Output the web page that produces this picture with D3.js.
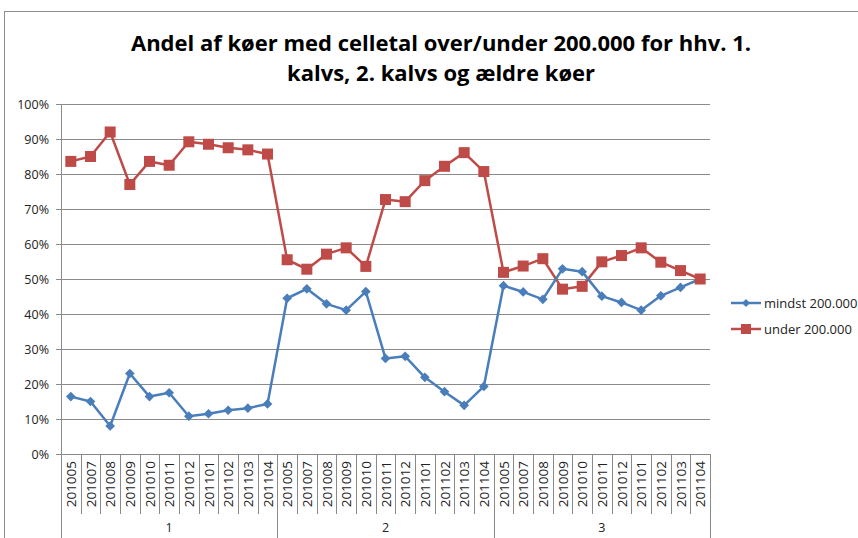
<!DOCTYPE html>
<html lang="da">
<head>
<meta charset="UTF-8">
<title>Andel af køer</title>
<style>
    body { margin: 0; background: #fff; }
    svg { display: block; font-family: "Open Sans", "Noto Sans", sans-serif; }
</style>
</head>
<body>
<svg width="858" height="538"></svg>
<script src="https://d3js.org/d3.v7.min.js"></script>
<script>
    // data
    const groups = ["1", "2", "3"]
    const months = ["201005", "201007", "201008", "201009", "201010", "201011",
                    "201012", "201101", "201102", "201103", "201104"]
    const mindst = [16.4, 15.0, 8.0, 23.0, 16.4, 17.5, 10.8, 11.5, 12.5, 13.1, 14.3,
                    44.5, 47.2, 42.9, 41.1, 46.4, 27.3, 27.9, 21.9, 17.8, 13.9, 19.3,
                    48.1, 46.3, 44.2, 52.9, 52.1, 45.1, 43.3, 41.1, 45.2, 47.6, 50.0]
    const under  = [83.6, 85.0, 92.0, 77.0, 83.6, 82.5, 89.2, 88.5, 87.5, 86.9, 85.7,
                    55.5, 52.8, 57.1, 58.9, 53.6, 72.7, 72.1, 78.1, 82.2, 86.1, 80.7,
                    51.9, 53.7, 55.8, 47.1, 47.9, 54.9, 56.7, 58.9, 54.8, 52.4, 50.0]
    const yTicks = [0, 10, 20, 30, 40, 50, 60, 70, 80, 90, 100]

    const labels = []
    groups.forEach(g => months.forEach(m => labels.push({ g, m })))

    const svg = d3.select('svg')
    const plotLeft = 61, plotRight = 710, plotTop = 104, plotBottom = 454

    const x = d3.scaleBand().domain(d3.range(labels.length)).range([plotLeft, plotRight])
    const y = d3.scaleLinear().domain([0, 100]).range([plotBottom, plotTop])
    const cx = i => x(i) + x.bandwidth() / 2

    // chart border
    svg.append('rect')
        .attr('x', 4.5).attr('y', 11.5)
        .attr('width', 900).attr('height', 600)
        .attr('fill', 'none').attr('stroke', '#8c8c8c')

    // title
    const title = svg.append('text')
        .attr('text-anchor', 'middle')
        .attr('font-weight', 'bold')
        .attr('font-size', 22)
        .attr('fill', '#000')
    title.append('tspan').attr('x', 441).attr('y', 51)
        .text('Andel af køer med celletal over/under 200.000 for hhv. 1.')
    title.append('tspan').attr('x', 441).attr('y', 81)
        .text('kalvs, 2. kalvs og ældre køer')

    // grid + y ticks
    svg.append('g').selectAll('line')
        .data(yTicks).enter().append('line')
            .attr('x1', plotLeft - 5).attr('x2', plotRight)
            .attr('y1', d => Math.round(y(d)) + 0.5)
            .attr('y2', d => Math.round(y(d)) + 0.5)
            .attr('stroke', '#8a8a8a').attr('stroke-width', 1)

    svg.append('line')
        .attr('x1', plotLeft + 0.5).attr('x2', plotLeft + 0.5)
        .attr('y1', plotTop).attr('y2', plotBottom)
        .attr('stroke', '#8a8a8a')

    svg.append('g').selectAll('text')
        .data(yTicks).enter().append('text')
            .attr('x', 49).attr('y', d => y(d) + 4.5)
            .attr('text-anchor', 'end')
            .attr('font-size', 12.5).attr('fill', '#222')
            .text(d => d + '%')

    // x axis: separators between categories, longer ones between groups
    svg.append('g').selectAll('line')
        .data(d3.range(labels.length + 1)).enter().append('line')
            .attr('x1', i => Math.round(i < labels.length ? x(i) : plotRight) + 0.5)
            .attr('x2', i => Math.round(i < labels.length ? x(i) : plotRight) + 0.5)
            .attr('y1', plotBottom)
            .attr('y2', i => i % months.length === 0 ? 538 : 514)
            .attr('stroke', '#8a8a8a')

    svg.append('g').selectAll('text')
        .data(labels).enter().append('text')
            .attr('transform', (d, i) => `translate(${cx(i) + 5},461) rotate(-90)`)
            .attr('text-anchor', 'end')
            .attr('font-size', 13.5).attr('fill', '#222')
            .text(d => d.m)

    svg.append('g').selectAll('text')
        .data(groups).enter().append('text')
            .attr('x', (g, k) => (x(k * months.length) + (k < 2 ? x((k + 1) * months.length) : plotRight)) / 2)
            .attr('y', 532)
            .attr('text-anchor', 'middle')
            .attr('font-size', 12.5).attr('fill', '#222')
            .text(d => d)

    // series
    const blue = '#4a7ebb', red = '#be4b48'
    const line = d3.line()
        .x((d, i) => cx(i))
        .y(d => y(d))

    svg.append('path').datum(under)
        .attr('d', line).attr('fill', 'none')
        .attr('stroke', red).attr('stroke-width', 2.5).attr('stroke-linejoin', 'round')
    svg.append('path').datum(mindst)
        .attr('d', line).attr('fill', 'none')
        .attr('stroke', blue).attr('stroke-width', 2.5).attr('stroke-linejoin', 'round')

    const diamond = d3.symbol().type(d3.symbolDiamond2).size(60)
    svg.append('g').selectAll('path')
        .data(mindst).enter().append('path')
            .attr('d', diamond)
            .attr('transform', (d, i) => `translate(${cx(i)},${y(d)})`)
            .attr('fill', blue)

    svg.append('g').selectAll('rect')
        .data(under).enter().append('rect')
            .attr('x', (d, i) => cx(i) - 5.5)
            .attr('y', d => y(d) - 5.5)
            .attr('width', 11).attr('height', 11)
            .attr('fill', red)

    // legend
    const legend = [
        { name: 'mindst 200.000', color: blue, y: 303, shape: 'diamond' },
        { name: 'under 200.000', color: red, y: 329, shape: 'square' }
    ]
    const lg = svg.append('g').selectAll('g')
        .data(legend).enter().append('g')
    lg.append('line')
        .attr('x1', 731).attr('x2', 761)
        .attr('y1', d => d.y).attr('y2', d => d.y)
        .attr('stroke', d => d.color).attr('stroke-width', 2.5)
    lg.append('path')
        .attr('d', d => d.shape === 'diamond'
            ? d3.symbol().type(d3.symbolDiamond2).size(40)()
            : d3.symbol().type(d3.symbolSquare).size(100)())
        .attr('transform', d => `translate(746,${d.y})`)
        .attr('fill', d => d.color)
    lg.append('text')
        .attr('x', 764).attr('y', d => d.y + 4.5)
        .attr('font-size', 13).attr('fill', '#222')
        .text(d => d.name)
</script>
</body>
</html>
